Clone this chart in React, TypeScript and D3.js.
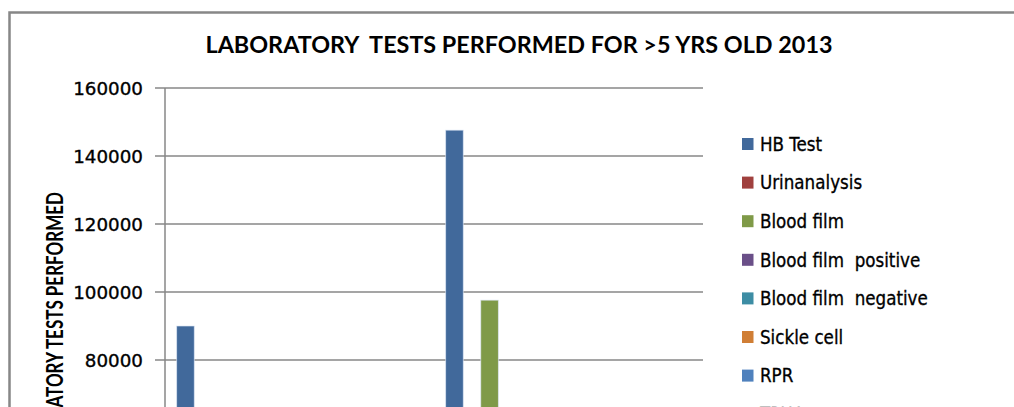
import React from "react";
import * as d3 from "d3";

const title = "LABORATORY  TESTS PERFORMED FOR >5 YRS OLD 2013";
const yAxisTitle = "LABORATORY TESTS PERFORMED";
const categories = ["Group 1", "Group 2"];
const seriesNames = [
  "HB Test",
  "Urinanalysis",
  "Blood film",
  "Blood film  positive",
  "Blood film  negative",
  "Sickle cell",
  "RPR",
  "TPHA",
  "Stool analysis",
  "Widal",
  "Blood group",
  "Pregnancy test",
  "HIV test",
  "Other",
];
// values per series: [category 1, category 2]
const seriesValues = [
  [90000, 147600],
  [41000, 60000],
  [52000, 97600],
  [9000, 16000],
  [43000, 62000],
  [3000, 5000],
  [6000, 9000],
  [2000, 3000],
  [20000, 31000],
  [12000, 18000],
  [7000, 11000],
  [4000, 6000],
  [10000, 15000],
  [1500, 2500],
];
const seriesColors = [
  "#41699b", "#a0403e", "#7f9a48", "#6a4f88", "#3d8da4", "#d07e35",
  "#4f81bd", "#c0504d", "#9bbb59", "#8064a2", "#4bacc6", "#f79646",
  "#7c9dc9", "#cc7b79",
];
const yTicks = [0, 20000, 40000, 60000, 80000, 100000, 120000, 140000, 160000];

export default function App() {
  const W = 1014, H = 407;
  const plotL = 165, plotR = 703, plotT = 88, plotB = 632;
  const y = d3.scaleLinear().domain([0, 160000]).range([plotB, plotT]);
  const x0 = d3.scaleBand().domain(categories).range([plotL, plotR]);
  const bw = x0.bandwidth();
  const g = 0.0435;
  const x1 = d3.scaleBand().domain(seriesNames).range([bw * g, bw * (1 - g)]);
  const legendY = d3.scaleLinear().domain([0, 1]).range([144, 182.6]);
  const grid = "#878787";
  return (
    <svg width={W} height={H} style={{ position: "absolute", left: 0, top: 0, background: "#fff" }}>
      <rect x={9.5} y={12.5} width={W + 20} height={H + 20} fill="#fff" stroke="#878787" strokeWidth={2.5} />
      <text x={519} y={53} textAnchor="middle" fontFamily="Lato, 'Open Sans', sans-serif"
        fontWeight="bold" fontSize={22} textLength={627} lengthAdjust="spacingAndGlyphs" fill="#000"
        style={{ whiteSpace: "pre" }}>{title}</text>
      {yTicks.map((t) => (
        <g key={t}>
          <line x1={plotL} x2={plotR} y1={y(t)} y2={y(t)} stroke={grid} strokeWidth={1.5} />
          <line x1={155} x2={plotL} y1={y(t)} y2={y(t)} stroke={grid} strokeWidth={1.5} />
          <text x={143} y={y(t) + 6.5} textAnchor="end" fontFamily="'DejaVu Sans', sans-serif" fontSize={18.3}
            fill="#000" stroke="#000" strokeWidth={0.35}>{t}</text>
        </g>
      ))}
      <line x1={plotL} x2={plotL} y1={plotT} y2={plotB} stroke={grid} strokeWidth={1.5} />
      {categories.map((c, ci) => (
        <g key={c}>
          {seriesNames.map((s, si) => (
            <rect key={s} x={x0(c)! + x1(s)!} y={y(seriesValues[si][ci])} width={x1.bandwidth()}
              height={plotB - y(seriesValues[si][ci])} fill={seriesColors[si]}
              stroke="rgba(220,230,245,0.8)" strokeWidth={0.8} />
          ))}
          <text x={x0(c)! + bw / 2} y={plotB + 22} textAnchor="middle" fontFamily="'DejaVu Sans', sans-serif"
            fontSize={17}>{c}</text>
        </g>
      ))}
      <text transform={`translate(62.5,192) rotate(-90)`} textAnchor="end" fontFamily="Lato, 'Open Sans', sans-serif"
        fontWeight="bold" fontSize={22} textLength={272} lengthAdjust="spacingAndGlyphs" fill="#000">{yAxisTitle}</text>
      {seriesNames.map((s, i) => (
        <g key={s} transform={`translate(0,${legendY(i)})`}>
          <rect x={742} y={-6} width={11.5} height={12} fill={seriesColors[i]} />
          <text x={760} y={6.8} fontFamily="'DejaVu Sans Condensed', 'DejaVu Sans', sans-serif" fontSize={18.6} fill="#000"
            stroke="#000" strokeWidth={0.3} style={{ whiteSpace: "pre" }}>{s}</text>
        </g>
      ))}
    </svg>
  );
}
